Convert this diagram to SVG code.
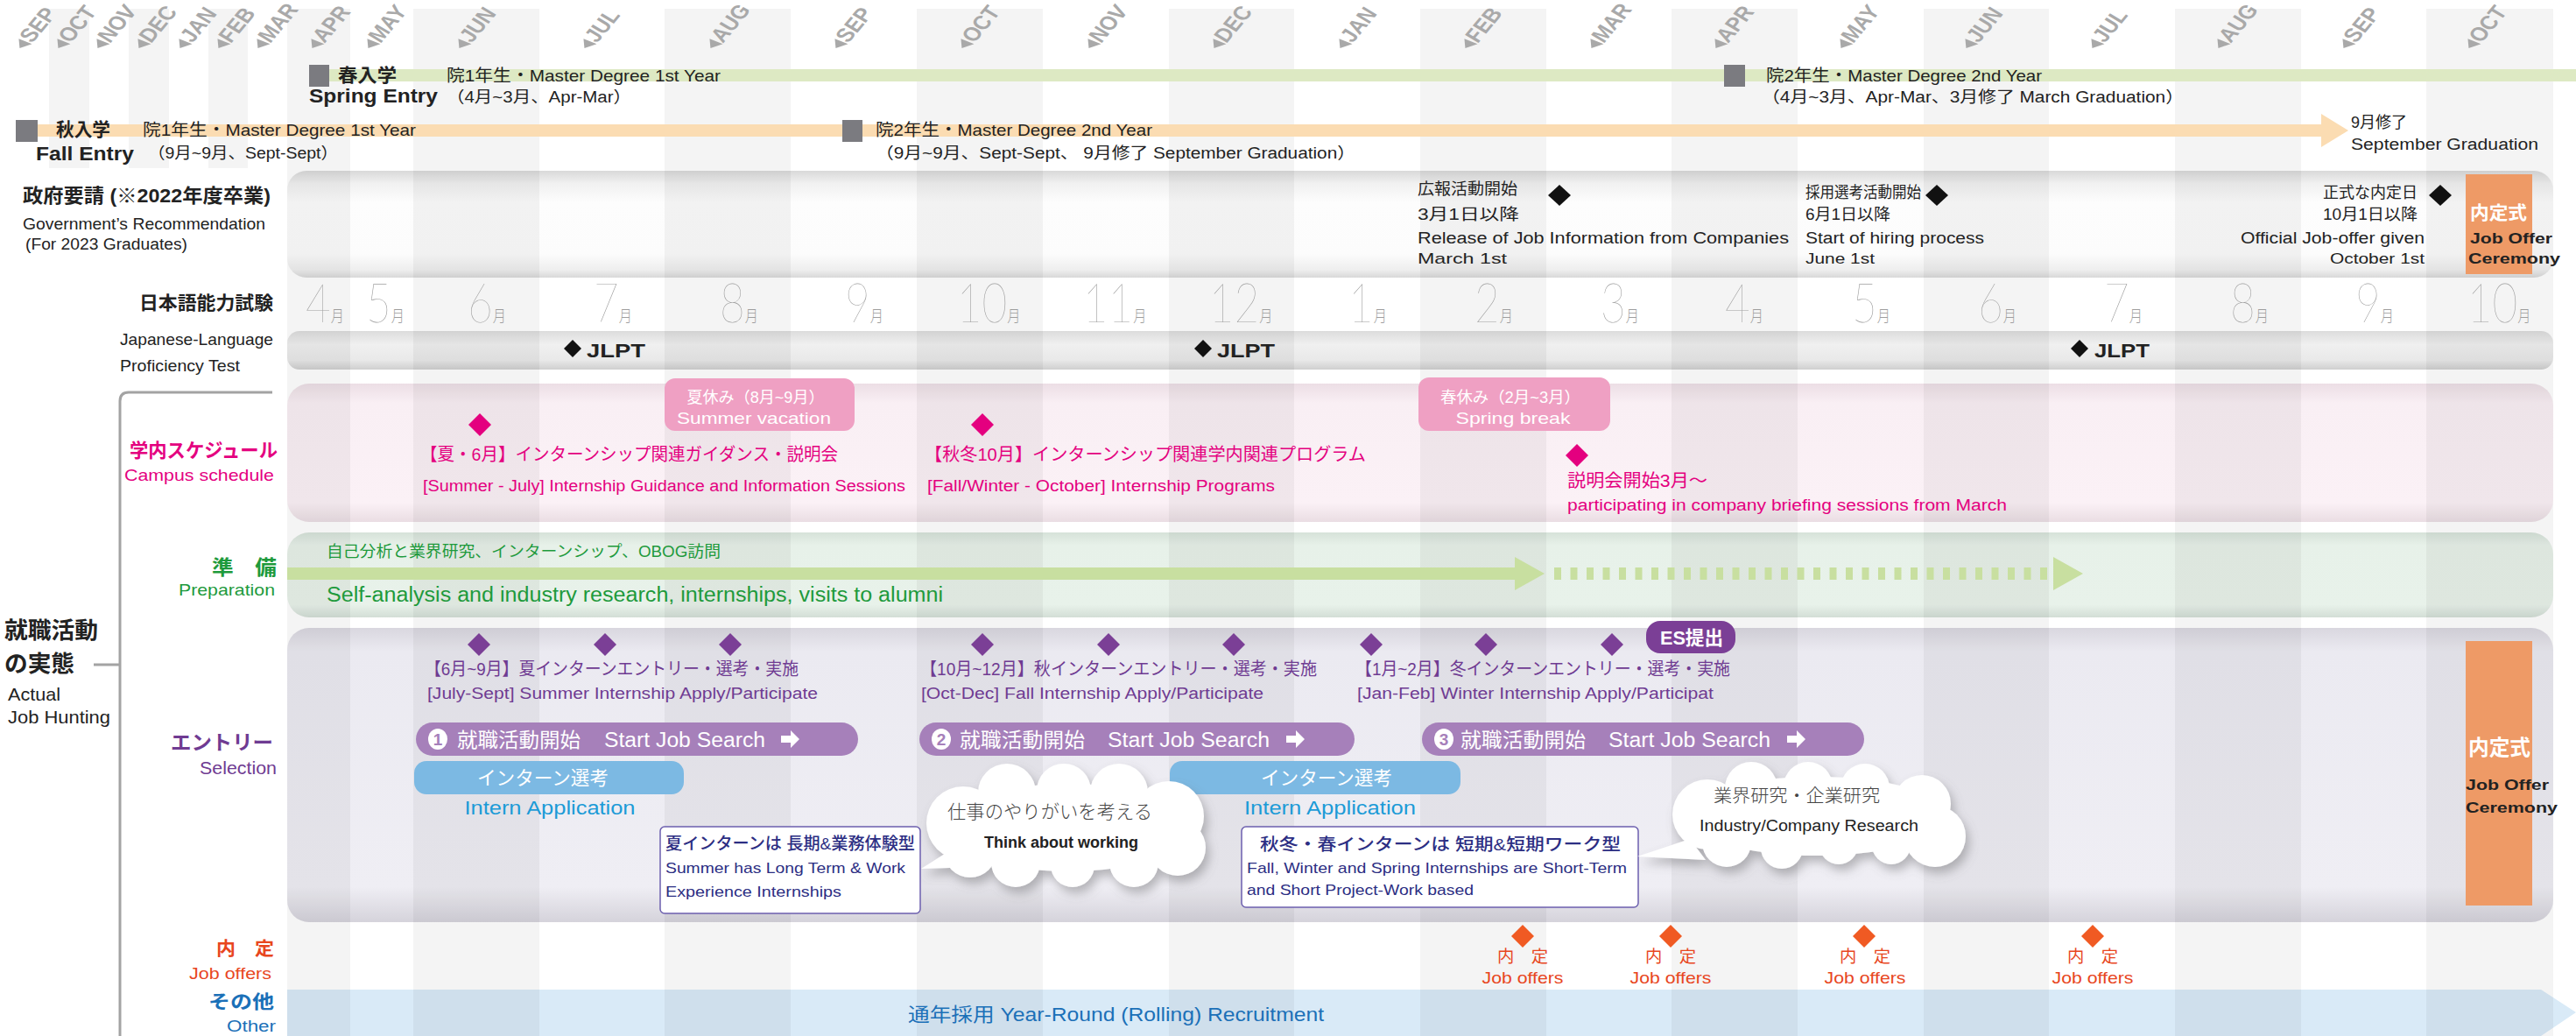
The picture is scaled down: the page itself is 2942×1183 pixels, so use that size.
<svg xmlns="http://www.w3.org/2000/svg" width="2942" height="1183" viewBox="0 0 2942 1183">
<defs>
<style>
text{font-family:"Liberation Sans","Noto Sans CJK JP",sans-serif;fill:#222}
.b{font-weight:bold}
.mon{font-style:italic;font-weight:bold;font-size:20px;fill:#a9a9a9}
.num{font-family:"Lato","Roboto","Noto Sans CJK JP",sans-serif;font-weight:200;fill:#9e9e9e;font-size:62px}
.nm{font-size:19px}
.mag{fill:#e4007f}
.grn{fill:#1e9a3c}
.pur{fill:#6f3b92}
.wht{fill:#fff}
.blu{fill:#1c9bd7}
.org{fill:#e8461e}
.oth{fill:#1b70b8}
.nav{fill:#2c2e83}
.stripe{fill:#000;fill-opacity:0.045}
.dm-k{fill:#111}
.dm-m{fill:#e4007f}
.dm-p{fill:#7b3f96}
.dm-o{fill:#f05a23}
.pill{fill:#a680ba}
.intern{fill:#7cb9e3}
.note{fill:#fff;stroke:#6c5fae;stroke-width:1.5}
.cloud{fill:#fff}
.cer{fill:#ee9a66}
.tri{fill:#a9a9a9}
</style>
<linearGradient id="gGov" x1="0" y1="0" x2="0" y2="1">
<stop offset="0" stop-color="#d9d9d9"/><stop offset="0.12" stop-color="#f1f1f1"/><stop offset="0.3" stop-color="#fdfdfd"/><stop offset="0.78" stop-color="#fcfcfc"/><stop offset="0.93" stop-color="#eeeeee"/><stop offset="1" stop-color="#d8d8d8"/>
</linearGradient>
<linearGradient id="gJl" x1="0" y1="0" x2="0" y2="1">
<stop offset="0" stop-color="#dcdcdc"/><stop offset="0.35" stop-color="#f0f0f0"/><stop offset="0.75" stop-color="#e9e9e9"/><stop offset="1" stop-color="#cfcfcf"/>
</linearGradient>
<linearGradient id="gPk" x1="0" y1="0" x2="0" y2="1">
<stop offset="0" stop-color="#ecdee5"/><stop offset="0.14" stop-color="#f9eff4"/><stop offset="0.86" stop-color="#fbf1f6"/><stop offset="1" stop-color="#eadde3"/>
</linearGradient>
<linearGradient id="gGr" x1="0" y1="0" x2="0" y2="1">
<stop offset="0" stop-color="#d6e2d9"/><stop offset="0.15" stop-color="#e7f1e9"/><stop offset="0.85" stop-color="#e8f2ea"/><stop offset="1" stop-color="#d3ded6"/>
</linearGradient>
<linearGradient id="gLv" x1="0" y1="0" x2="0" y2="1">
<stop offset="0" stop-color="#d9d7df"/><stop offset="0.08" stop-color="#ebeaf1"/><stop offset="0.88" stop-color="#efeef4"/><stop offset="1" stop-color="#d5d3db"/>
</linearGradient>
<filter id="sh" x="-15%" y="-20%" width="140%" height="160%">
<feDropShadow dx="4" dy="7" stdDeviation="6" flood-color="#6a6a70" flood-opacity="0.45"/>
</filter>
</defs>

<rect x="0" y="0" width="2942" height="1183" fill="#fff"/>

<!-- panels -->
<g id="panels">
<rect x="328" y="195" width="2588" height="122" rx="22" fill="url(#gGov)"/>
<rect x="328" y="378" width="2588" height="44" rx="14" fill="url(#gJl)"/>
<rect x="328" y="438" width="2588" height="158" rx="25" fill="url(#gPk)"/>
<rect x="328" y="608" width="2588" height="97" rx="25" fill="url(#gGr)"/>
<rect x="328" y="717" width="2588" height="336" rx="25" fill="url(#gLv)"/>
<polygon points="328,1130 2902,1130 2942,1156 2902,1183 328,1183" fill="#d9eaf7"/>
</g>

<!-- month stripes -->
<g id="stripes">
<rect class="stripe" x="56" y="10" width="46" height="182"/>
<rect class="stripe" x="147" y="10" width="46" height="182"/>
<rect class="stripe" x="238" y="10" width="45" height="182"/>
<rect class="stripe" x="328" y="10" width="72" height="1173"/>
<rect class="stripe" x="472" y="10" width="144" height="1173"/>
<rect class="stripe" x="759" y="10" width="144" height="1173"/>
<rect class="stripe" x="1047" y="10" width="144" height="1173"/>
<rect class="stripe" x="1335" y="10" width="143" height="1173"/>
<rect class="stripe" x="1622" y="10" width="144" height="1173"/>
<rect class="stripe" x="1909" y="10" width="144" height="1173"/>
<rect class="stripe" x="2197" y="10" width="143" height="1173"/>
<rect class="stripe" x="2484" y="10" width="144" height="1173"/>
<rect class="stripe" x="2771" y="10" width="145" height="1173"/>
</g>

<!-- rotated month labels -->
<g id="month-labels">
<g transform="translate(30,58) scale(1.45,1) rotate(-60)"><polygon class="tri" points="0,-6 9,-12 9,0"/><text x="10" y="0" class="mon">SEP</text></g>
<g transform="translate(74,58) scale(1.45,1) rotate(-60)"><polygon class="tri" points="0,-6 9,-12 9,0"/><text x="10" y="0" class="mon">OCT</text></g>
<g transform="translate(119,58) scale(1.45,1) rotate(-60)"><polygon class="tri" points="0,-6 9,-12 9,0"/><text x="10" y="0" class="mon">NOV</text></g>
<g transform="translate(166,58) scale(1.45,1) rotate(-60)"><polygon class="tri" points="0,-6 9,-12 9,0"/><text x="10" y="0" class="mon">DEC</text></g>
<g transform="translate(213,58) scale(1.45,1) rotate(-60)"><polygon class="tri" points="0,-6 9,-12 9,0"/><text x="10" y="0" class="mon">JAN</text></g>
<g transform="translate(257,58) scale(1.45,1) rotate(-60)"><polygon class="tri" points="0,-6 9,-12 9,0"/><text x="10" y="0" class="mon">FEB</text></g>
<g transform="translate(302,58) scale(1.45,1) rotate(-60)"><polygon class="tri" points="0,-6 9,-12 9,0"/><text x="10" y="0" class="mon">MAR</text></g>
<g transform="translate(364,58) scale(1.45,1) rotate(-60)"><polygon class="tri" points="0,-6 9,-12 9,0"/><text x="10" y="0" class="mon">APR</text></g>
<g transform="translate(428,58) scale(1.45,1) rotate(-60)"><polygon class="tri" points="0,-6 9,-12 9,0"/><text x="10" y="0" class="mon">MAY</text></g>
<g transform="translate(532,58) scale(1.45,1) rotate(-60)"><polygon class="tri" points="0,-6 9,-12 9,0"/><text x="10" y="0" class="mon">JUN</text></g>
<g transform="translate(675,58) scale(1.45,1) rotate(-60)"><polygon class="tri" points="0,-6 9,-12 9,0"/><text x="10" y="0" class="mon">JUL</text></g>
<g transform="translate(819,58) scale(1.45,1) rotate(-60)"><polygon class="tri" points="0,-6 9,-12 9,0"/><text x="10" y="0" class="mon">AUG</text></g>
<g transform="translate(962,58) scale(1.45,1) rotate(-60)"><polygon class="tri" points="0,-6 9,-12 9,0"/><text x="10" y="0" class="mon">SEP</text></g>
<g transform="translate(1106,58) scale(1.45,1) rotate(-60)"><polygon class="tri" points="0,-6 9,-12 9,0"/><text x="10" y="0" class="mon">OCT</text></g>
<g transform="translate(1251,58) scale(1.45,1) rotate(-60)"><polygon class="tri" points="0,-6 9,-12 9,0"/><text x="10" y="0" class="mon">NOV</text></g>
<g transform="translate(1394,58) scale(1.45,1) rotate(-60)"><polygon class="tri" points="0,-6 9,-12 9,0"/><text x="10" y="0" class="mon">DEC</text></g>
<g transform="translate(1538,58) scale(1.45,1) rotate(-60)"><polygon class="tri" points="0,-6 9,-12 9,0"/><text x="10" y="0" class="mon">JAN</text></g>
<g transform="translate(1681,58) scale(1.45,1) rotate(-60)"><polygon class="tri" points="0,-6 9,-12 9,0"/><text x="10" y="0" class="mon">FEB</text></g>
<g transform="translate(1825,58) scale(1.45,1) rotate(-60)"><polygon class="tri" points="0,-6 9,-12 9,0"/><text x="10" y="0" class="mon">MAR</text></g>
<g transform="translate(1967,58) scale(1.45,1) rotate(-60)"><polygon class="tri" points="0,-6 9,-12 9,0"/><text x="10" y="0" class="mon">APR</text></g>
<g transform="translate(2110,58) scale(1.45,1) rotate(-60)"><polygon class="tri" points="0,-6 9,-12 9,0"/><text x="10" y="0" class="mon">MAY</text></g>
<g transform="translate(2253,58) scale(1.45,1) rotate(-60)"><polygon class="tri" points="0,-6 9,-12 9,0"/><text x="10" y="0" class="mon">JUN</text></g>
<g transform="translate(2397,58) scale(1.45,1) rotate(-60)"><polygon class="tri" points="0,-6 9,-12 9,0"/><text x="10" y="0" class="mon">JUL</text></g>
<g transform="translate(2541,58) scale(1.45,1) rotate(-60)"><polygon class="tri" points="0,-6 9,-12 9,0"/><text x="10" y="0" class="mon">AUG</text></g>
<g transform="translate(2684,58) scale(1.45,1) rotate(-60)"><polygon class="tri" points="0,-6 9,-12 9,0"/><text x="10" y="0" class="mon">SEP</text></g>
<g transform="translate(2827,58) scale(1.45,1) rotate(-60)"><polygon class="tri" points="0,-6 9,-12 9,0"/><text x="10" y="0" class="mon">OCT</text></g>
</g>

<!-- enrolment bars -->
<g id="spring-entry">
<rect x="376" y="79" width="2566" height="14" fill="#dde9c3"/>
<rect x="353" y="74" width="23" height="25" fill="#7b7b80"/>
<rect x="1969" y="74" width="24" height="25" fill="#7b7b80"/>
<text x="386" y="93" class="b" font-size="21" textLength="67" lengthAdjust="spacingAndGlyphs">春入学</text>
<text x="510" y="93" font-size="19" textLength="313" lengthAdjust="spacingAndGlyphs">院1年生・Master Degree 1st Year</text>
<text x="353" y="117" class="b" font-size="22" textLength="147" lengthAdjust="spacingAndGlyphs">Spring Entry</text>
<text x="510" y="117" font-size="18" textLength="211" lengthAdjust="spacingAndGlyphs">（4月~3月、Apr-Mar）</text>
<text x="2017" y="93" font-size="19" textLength="315" lengthAdjust="spacingAndGlyphs">院2年生・Master Degree 2nd Year</text>
<text x="2012" y="117" font-size="18" textLength="482" lengthAdjust="spacingAndGlyphs">（4月~3月、Apr-Mar、3月修了 March Graduation）</text>
</g>
<g id="fall-entry">
<rect x="43" y="142" width="2608" height="14" fill="#fbdcb2"/>
<polygon points="2651,130 2682,149 2651,168" fill="#fbdcb2"/>
<rect x="18" y="137" width="25" height="25" fill="#7b7b80"/>
<rect x="962" y="137" width="23" height="25" fill="#7b7b80"/>
<text x="64" y="155" class="b" font-size="21" textLength="62" lengthAdjust="spacingAndGlyphs">秋入学</text>
<text x="163" y="155" font-size="19" textLength="312" lengthAdjust="spacingAndGlyphs">院1年生・Master Degree 1st Year</text>
<text x="41" y="183" class="b" font-size="22" textLength="112" lengthAdjust="spacingAndGlyphs">Fall Entry</text>
<text x="169" y="181" font-size="18" textLength="217" lengthAdjust="spacingAndGlyphs">（9月~9月、Sept-Sept）</text>
<text x="1000" y="155" font-size="19" textLength="316" lengthAdjust="spacingAndGlyphs">院2年生・Master Degree 2nd Year</text>
<text x="1000" y="181" font-size="18" textLength="548" lengthAdjust="spacingAndGlyphs">（9月~9月、Sept-Sept、 9月修了 September Graduation）</text>
<text x="2685" y="146" font-size="18" textLength="64" lengthAdjust="spacingAndGlyphs">9月修了</text>
<text x="2685" y="171" font-size="18" textLength="214" lengthAdjust="spacingAndGlyphs">September Graduation</text>
</g>

<!-- government recommendation -->
<g id="gov">
<text x="26" y="231" class="b" font-size="22" textLength="283" lengthAdjust="spacingAndGlyphs">政府要請 (※2022年度卒業)</text>
<text x="26" y="262" font-size="19" textLength="277" lengthAdjust="spacingAndGlyphs">Government’s Recommendation</text>
<text x="29" y="285" font-size="18" textLength="185" lengthAdjust="spacingAndGlyphs">(For 2023 Graduates)</text>

<text x="1619" y="222" font-size="18" textLength="114" lengthAdjust="spacingAndGlyphs">広報活動開始</text>
<polygon class="dm-k" points="1781,211 1794,223 1781,235 1768,223"/>
<text x="1619" y="251" font-size="18" textLength="116" lengthAdjust="spacingAndGlyphs">3月1日以降</text>
<text x="1619" y="278" font-size="18" textLength="424" lengthAdjust="spacingAndGlyphs">Release of Job Information from Companies</text>
<text x="1619" y="301" font-size="17" textLength="102" lengthAdjust="spacingAndGlyphs">March 1st</text>

<text x="2062" y="226" font-size="18" textLength="132" lengthAdjust="spacingAndGlyphs">採用選考活動開始</text>
<polygon class="dm-k" points="2212,211 2225,223 2212,235 2199,223"/>
<text x="2062" y="251" font-size="18" textLength="97" lengthAdjust="spacingAndGlyphs">6月1日以降</text>
<text x="2062" y="278" font-size="18" textLength="204" lengthAdjust="spacingAndGlyphs">Start of hiring process</text>
<text x="2062" y="301" font-size="17" textLength="79" lengthAdjust="spacingAndGlyphs">June 1st</text>

<text x="2761" y="226" font-size="18" text-anchor="end" textLength="108" lengthAdjust="spacingAndGlyphs">正式な内定日</text>
<polygon class="dm-k" points="2787,211 2800,223 2787,235 2774,223"/>
<text x="2761" y="251" font-size="18" text-anchor="end" textLength="108" lengthAdjust="spacingAndGlyphs">10月1日以降</text>
<text x="2769" y="278" font-size="18" text-anchor="end" textLength="210" lengthAdjust="spacingAndGlyphs">Official Job-offer given</text>
<text x="2769" y="301" font-size="17" text-anchor="end" textLength="108" lengthAdjust="spacingAndGlyphs">October 1st</text>

<rect class="cer" x="2816" y="199" width="76" height="114"/>
<text x="2821" y="250" class="b wht" font-size="21" textLength="65" lengthAdjust="spacingAndGlyphs">内定式</text>
<text x="2821" y="278" class="b" font-size="16" textLength="94" lengthAdjust="spacingAndGlyphs">Job Offer</text>
<text x="2819" y="301" class="b" font-size="16" textLength="105" lengthAdjust="spacingAndGlyphs">Ceremony</text>
</g>

<!-- month numbers -->
<g id="month-numbers">
<text class="num" transform="translate(371,368) scale(0.8,1)" text-anchor="middle">4<tspan class="nm">月</tspan></text>
<text class="num" transform="translate(440,368) scale(0.8,1)" text-anchor="middle">5<tspan class="nm">月</tspan></text>
<text class="num" transform="translate(556,368) scale(0.8,1)" text-anchor="middle">6<tspan class="nm">月</tspan></text>
<text class="num" transform="translate(700,368) scale(0.8,1)" text-anchor="middle">7<tspan class="nm">月</tspan></text>
<text class="num" transform="translate(844,368) scale(0.8,1)" text-anchor="middle">8<tspan class="nm">月</tspan></text>
<text class="num" transform="translate(987,368) scale(0.8,1)" text-anchor="middle">9<tspan class="nm">月</tspan></text>
<text class="num" transform="translate(1129,368) scale(0.8,1)" text-anchor="middle">10<tspan class="nm">月</tspan></text>
<text class="num" transform="translate(1273,368) scale(0.8,1)" text-anchor="middle">11<tspan class="nm">月</tspan></text>
<text class="num" transform="translate(1417,368) scale(0.8,1)" text-anchor="middle">12<tspan class="nm">月</tspan></text>
<text class="num" transform="translate(1562,368) scale(0.8,1)" text-anchor="middle">1<tspan class="nm">月</tspan></text>
<text class="num" transform="translate(1706,368) scale(0.8,1)" text-anchor="middle">2<tspan class="nm">月</tspan></text>
<text class="num" transform="translate(1850,368) scale(0.8,1)" text-anchor="middle">3<tspan class="nm">月</tspan></text>
<text class="num" transform="translate(1992,368) scale(0.8,1)" text-anchor="middle">4<tspan class="nm">月</tspan></text>
<text class="num" transform="translate(2137,368) scale(0.8,1)" text-anchor="middle">5<tspan class="nm">月</tspan></text>
<text class="num" transform="translate(2281,368) scale(0.8,1)" text-anchor="middle">6<tspan class="nm">月</tspan></text>
<text class="num" transform="translate(2425,368) scale(0.8,1)" text-anchor="middle">7<tspan class="nm">月</tspan></text>
<text class="num" transform="translate(2569,368) scale(0.8,1)" text-anchor="middle">8<tspan class="nm">月</tspan></text>
<text class="num" transform="translate(2712,368) scale(0.8,1)" text-anchor="middle">9<tspan class="nm">月</tspan></text>
<text class="num" transform="translate(2854,368) scale(0.8,1)" text-anchor="middle">10<tspan class="nm">月</tspan></text>
</g>

<!-- JLPT -->
<g id="jlpt">
<text x="312" y="353" class="b" font-size="21" text-anchor="end" textLength="153" lengthAdjust="spacingAndGlyphs">日本語能力試験</text>
<text x="137" y="394" font-size="19" textLength="175" lengthAdjust="spacingAndGlyphs">Japanese-Language</text>
<text x="137" y="424" font-size="19" textLength="137" lengthAdjust="spacingAndGlyphs">Proficiency Test</text>
<polygon class="dm-k" points="654,388 664,398 654,408 644,398"/>
<text x="670" y="408" class="b" font-size="22" textLength="67" lengthAdjust="spacingAndGlyphs">JLPT</text>
<polygon class="dm-k" points="1374,388 1384,398 1374,408 1364,398"/>
<text x="1390" y="408" class="b" font-size="22" textLength="66" lengthAdjust="spacingAndGlyphs">JLPT</text>
<polygon class="dm-k" points="2375,388 2385,398 2375,408 2365,398"/>
<text x="2392" y="408" class="b" font-size="22" textLength="63" lengthAdjust="spacingAndGlyphs">JLPT</text>
</g>

<!-- bracket for actual job hunting -->
<g id="bracket" fill="none" stroke="#a3a3a3" stroke-width="3">
<path d="M311,448 H147 Q137,448 137,458 V1183"/>
<path d="M107,759 H137"/>
</g>

<!-- campus schedule -->
<g id="campus">
<text x="317" y="522" class="b mag" font-size="22" text-anchor="end" textLength="169" lengthAdjust="spacingAndGlyphs">学内スケジュール</text>
<text x="313" y="549" class="mag" font-size="19" text-anchor="end" textLength="171" lengthAdjust="spacingAndGlyphs">Campus schedule</text>
<polygon class="dm-m" points="548,472 561,485 548,498 535,485"/>
<text x="480" y="526" class="mag" font-size="20" textLength="477" lengthAdjust="spacingAndGlyphs">【夏・6月】インターンシップ関連ガイダンス・説明会</text>
<text x="483" y="561" class="mag" font-size="18" textLength="551" lengthAdjust="spacingAndGlyphs">[Summer - July] Internship Guidance and Information Sessions</text>
<rect x="759" y="432" width="217" height="60" rx="12" fill="#efa0c3"/>
<text x="863" y="460" class="wht" font-size="18" text-anchor="middle" textLength="157" lengthAdjust="spacingAndGlyphs">夏休み（8月~9月）</text>
<text x="861" y="484" class="wht" font-size="19" text-anchor="middle" textLength="176" lengthAdjust="spacingAndGlyphs">Summer vacation</text>
<polygon class="dm-m" points="1122,472 1135,485 1122,498 1109,485"/>
<text x="1056" y="526" class="mag" font-size="20" textLength="504" lengthAdjust="spacingAndGlyphs">【秋冬10月】インターンシップ関連学内関連プログラム</text>
<text x="1059" y="561" class="mag" font-size="18" textLength="397" lengthAdjust="spacingAndGlyphs">[Fall/Winter - October] Internship Programs</text>
<rect x="1620" y="431" width="219" height="61" rx="12" fill="#efa0c3"/>
<text x="1725" y="460" class="wht" font-size="18" text-anchor="middle" textLength="160" lengthAdjust="spacingAndGlyphs">春休み（2月~3月）</text>
<text x="1728" y="484" class="wht" font-size="19" text-anchor="middle" textLength="131" lengthAdjust="spacingAndGlyphs">Spring break</text>
<polygon class="dm-m" points="1801,507 1814,520 1801,533 1788,520"/>
<text x="1790" y="556" class="mag" font-size="20" textLength="160" lengthAdjust="spacingAndGlyphs">説明会開始3月～</text>
<text x="1790" y="583" class="mag" font-size="18" textLength="502" lengthAdjust="spacingAndGlyphs">participating in company briefing sessions from March</text>
</g>

<!-- preparation -->
<g id="preparation">
<text x="316" y="656" class="b grn" font-size="23" text-anchor="end" textLength="74" lengthAdjust="spacingAndGlyphs">準　備</text>
<text x="314" y="680" class="grn" font-size="19" text-anchor="end" textLength="110" lengthAdjust="spacingAndGlyphs">Preparation</text>
<text x="373" y="636" class="grn" font-size="18" textLength="450" lengthAdjust="spacingAndGlyphs">自己分析と業界研究、インターンシップ、OBOG訪問</text>
<rect x="328" y="648" width="1402" height="14" fill="#c8dfa0"/>
<polygon points="1730,636 1764,655 1730,674" fill="#c8dfa0"/>
<line x1="1775" y1="655" x2="2345" y2="655" stroke="#c8dfa0" stroke-width="14" stroke-dasharray="8 10.5"/>
<polygon points="2345,636 2379,655 2345,674" fill="#c8dfa0"/>
<text x="373" y="687" class="grn" font-size="23" textLength="704" lengthAdjust="spacingAndGlyphs">Self-analysis and industry research, internships, visits to alumni</text>
</g>

<!-- actual job hunting label -->
<g id="job-hunting-label">
<text x="5" y="729" class="b" font-size="26" textLength="107" lengthAdjust="spacingAndGlyphs">就職活動</text>
<text x="5" y="767" class="b" font-size="26" textLength="80" lengthAdjust="spacingAndGlyphs">の実態</text>
<text x="9" y="800" font-size="21" textLength="60" lengthAdjust="spacingAndGlyphs">Actual</text>
<text x="9" y="826" font-size="21" textLength="117" lengthAdjust="spacingAndGlyphs">Job Hunting</text>
</g>

<g id="entry">
<text x="312" y="856" class="b pur" font-size="23" text-anchor="end" textLength="117" lengthAdjust="spacingAndGlyphs">エントリー</text>
<text x="316" y="884" class="pur" font-size="20" text-anchor="end" textLength="88" lengthAdjust="spacingAndGlyphs">Selection</text>

<polygon class="dm-p" points="547,723 560,736 547,749 534,736"/>
<polygon class="dm-p" points="691,723 704,736 691,749 678,736"/>
<polygon class="dm-p" points="834,723 847,736 834,749 821,736"/>
<polygon class="dm-p" points="1122,723 1135,736 1122,749 1109,736"/>
<polygon class="dm-p" points="1266,723 1279,736 1266,749 1253,736"/>
<polygon class="dm-p" points="1409,723 1422,736 1409,749 1396,736"/>
<polygon class="dm-p" points="1566,723 1579,736 1566,749 1553,736"/>
<polygon class="dm-p" points="1697,723 1710,736 1697,749 1684,736"/>
<polygon class="dm-p" points="1841,723 1854,736 1841,749 1828,736"/>

<rect x="1880" y="709" width="102" height="37" rx="16" fill="#7b3f96"/>
<text x="1932" y="736" class="b wht" font-size="22" text-anchor="middle" textLength="72" lengthAdjust="spacingAndGlyphs">ES提出</text>

<text x="485" y="771" class="pur" font-size="20" textLength="427" lengthAdjust="spacingAndGlyphs">【6月~9月】夏インターンエントリー・選考・実施</text>
<text x="488" y="798" class="pur" font-size="18" textLength="446" lengthAdjust="spacingAndGlyphs">[July-Sept] Summer Internship Apply/Participate</text>
<text x="1051" y="771" class="pur" font-size="20" textLength="453" lengthAdjust="spacingAndGlyphs">【10月~12月】秋インターンエントリー・選考・実施</text>
<text x="1052" y="798" class="pur" font-size="18" textLength="391" lengthAdjust="spacingAndGlyphs">[Oct-Dec] Fall Internship Apply/Participate</text>
<text x="1548" y="771" class="pur" font-size="20" textLength="428" lengthAdjust="spacingAndGlyphs">【1月~2月】冬インターンエントリー・選考・実施</text>
<text x="1550" y="798" class="pur" font-size="18" textLength="407" lengthAdjust="spacingAndGlyphs">[Jan-Feb] Winter Internship Apply/Participat</text>
</g>

<g id="start-job-search-1">
<rect class="pill" x="475" y="825" width="505" height="38" rx="19"/>
<ellipse cx="500" cy="844" rx="11" ry="12" fill="#fff"/>
<text x="500" y="851" class="b" font-size="19" text-anchor="middle" style="fill:#a680ba">1</text>
<text x="522" y="853" class="wht" font-size="23" textLength="141" lengthAdjust="spacingAndGlyphs">就職活動開始</text>
<text x="690" y="853" class="wht" font-size="23" textLength="184" lengthAdjust="spacingAndGlyphs">Start Job Search</text>
<polygon points="892,840 903,840 903,834 913,844 903,854 903,848 892,848" fill="#fff"/>
</g>
<g id="start-job-search-2">
<rect class="pill" x="1050" y="825" width="497" height="38" rx="19"/>
<ellipse cx="1075" cy="844" rx="11" ry="12" fill="#fff"/>
<text x="1075" y="851" class="b" font-size="19" text-anchor="middle" style="fill:#a680ba">2</text>
<text x="1096" y="853" class="wht" font-size="23" textLength="143" lengthAdjust="spacingAndGlyphs">就職活動開始</text>
<text x="1265" y="853" class="wht" font-size="23" textLength="185" lengthAdjust="spacingAndGlyphs">Start Job Search</text>
<polygon points="1469,840 1480,840 1480,834 1490,844 1480,854 1480,848 1469,848" fill="#fff"/>
</g>
<g id="start-job-search-3">
<rect class="pill" x="1624" y="825" width="505" height="38" rx="19"/>
<ellipse cx="1649" cy="844" rx="11" ry="12" fill="#fff"/>
<text x="1649" y="851" class="b" font-size="19" text-anchor="middle" style="fill:#a680ba">3</text>
<text x="1668" y="853" class="wht" font-size="23" textLength="143" lengthAdjust="spacingAndGlyphs">就職活動開始</text>
<text x="1837" y="853" class="wht" font-size="23" textLength="185" lengthAdjust="spacingAndGlyphs">Start Job Search</text>
<polygon points="2041,840 2052,840 2052,834 2062,844 2052,854 2052,848 2041,848" fill="#fff"/>
</g>

<g id="intern-application-1">
<rect class="intern" x="473" y="869" width="308" height="38" rx="14"/>
<text x="620" y="896" class="wht" font-size="22" text-anchor="middle" textLength="150" lengthAdjust="spacingAndGlyphs">インターン選考</text>
<text x="628" y="930" class="blu" font-size="22" text-anchor="middle" textLength="195" lengthAdjust="spacingAndGlyphs">Intern Application</text>
</g>
<g id="intern-application-2">
<rect class="intern" x="1336" y="869" width="332" height="38" rx="14"/>
<text x="1515" y="896" class="wht" font-size="22" text-anchor="middle" textLength="150" lengthAdjust="spacingAndGlyphs">インターン選考</text>
<text x="1519" y="930" class="blu" font-size="22" text-anchor="middle" textLength="196" lengthAdjust="spacingAndGlyphs">Intern Application</text>
</g>

<g id="note-summer">
<rect class="note" x="754" y="944" width="297" height="99" rx="5"/>
<text x="760" y="970" class="nav" font-size="19" font-weight="500" textLength="285" lengthAdjust="spacingAndGlyphs">夏インターンは 長期&amp;業務体験型</text>
<text x="760" y="997" class="nav" font-size="17" textLength="274" lengthAdjust="spacingAndGlyphs">Summer has Long Term &amp; Work</text>
<text x="760" y="1024" class="nav" font-size="17" textLength="201" lengthAdjust="spacingAndGlyphs">Experience Internships</text>
</g>
<g id="note-fall">
<rect class="note" x="1418" y="944" width="453" height="92" rx="5"/>
<text x="1439" y="971" class="nav" font-size="19" font-weight="500" textLength="412" lengthAdjust="spacingAndGlyphs">秋冬・春インターンは 短期&amp;短期ワーク型</text>
<text x="1424" y="997" class="nav" font-size="17" textLength="434" lengthAdjust="spacingAndGlyphs">Fall, Winter and Spring Internships are Short-Term</text>
<text x="1424" y="1022" class="nav" font-size="17" textLength="259" lengthAdjust="spacingAndGlyphs">and Short Project-Work based</text>
</g>

<g id="cloud-think">
<g class="cloud" filter="url(#sh)">
<polygon points="1090,968 1052,992 1118,990"/>
<ellipse cx="1220" cy="945" rx="140" ry="50"/>
<circle cx="1100" cy="940" r="42"/>
<circle cx="1150" cy="905" r="33"/>
<circle cx="1215" cy="903" r="31"/>
<circle cx="1278" cy="905" r="33"/>
<circle cx="1335" cy="932" r="40"/>
<circle cx="1345" cy="968" r="32"/>
<circle cx="1295" cy="985" r="28"/>
<circle cx="1225" cy="988" r="25"/>
<circle cx="1160" cy="985" r="28"/>
<circle cx="1108" cy="972" r="30"/>
</g>
<text x="1199" y="934" font-size="21" font-weight="300" text-anchor="middle" textLength="234" lengthAdjust="spacingAndGlyphs" style="fill:#444">仕事のやりがいを考える</text>
<text x="1212" y="968" class="b" font-size="18" text-anchor="middle" textLength="176" lengthAdjust="spacingAndGlyphs">Think about working</text>
</g>

<g id="cloud-research">
<g class="cloud" filter="url(#sh)">
<polygon points="1930,958 1870,978 1948,982"/>
<ellipse cx="2075" cy="932" rx="150" ry="45"/>
<circle cx="1950" cy="930" r="40"/>
<circle cx="2000" cy="900" r="30"/>
<circle cx="2065" cy="898" r="28"/>
<circle cx="2130" cy="900" r="28"/>
<circle cx="2195" cy="918" r="33"/>
<circle cx="2210" cy="955" r="35"/>
<circle cx="2160" cy="965" r="22"/>
<circle cx="2100" cy="965" r="22"/>
<circle cx="2035" cy="968" r="24"/>
<circle cx="1972" cy="962" r="28"/>
</g>
<text x="2052" y="916" font-size="20" font-weight="300" text-anchor="middle" textLength="190" lengthAdjust="spacingAndGlyphs" style="fill:#444">業界研究・企業研究</text>
<text x="2066" y="949" font-size="18" text-anchor="middle" textLength="250" lengthAdjust="spacingAndGlyphs">Industry/Company Research</text>
</g>

<g id="ceremony">
<rect class="cer" x="2816" y="732" width="76" height="302"/>
<text x="2819" y="862" class="b wht" font-size="24" textLength="71" lengthAdjust="spacingAndGlyphs">内定式</text>
<text x="2816" y="902" class="b" font-size="17" textLength="95" lengthAdjust="spacingAndGlyphs">Job Offer</text>
<text x="2816" y="928" class="b" font-size="17" textLength="105" lengthAdjust="spacingAndGlyphs">Ceremony</text>
</g>

<!-- job offers -->
<g id="job-offers">
<text x="313" y="1090" class="b org" font-size="21" text-anchor="end" textLength="66" lengthAdjust="spacingAndGlyphs">内　定</text>
<text x="310" y="1118" class="org" font-size="18" text-anchor="end" textLength="94" lengthAdjust="spacingAndGlyphs">Job offers</text>
<polygon class="dm-o" points="1739,1056 1752,1069 1739,1082 1726,1069"/>
<text x="1739" y="1099" class="org" font-size="19" text-anchor="middle" textLength="58" lengthAdjust="spacingAndGlyphs">内　定</text>
<text x="1739" y="1123" class="org" font-size="19" text-anchor="middle" textLength="93" lengthAdjust="spacingAndGlyphs">Job offers</text>
<polygon class="dm-o" points="1908,1056 1921,1069 1908,1082 1895,1069"/>
<text x="1908" y="1099" class="org" font-size="19" text-anchor="middle" textLength="58" lengthAdjust="spacingAndGlyphs">内　定</text>
<text x="1908" y="1123" class="org" font-size="19" text-anchor="middle" textLength="93" lengthAdjust="spacingAndGlyphs">Job offers</text>
<polygon class="dm-o" points="2129,1056 2142,1069 2129,1082 2116,1069"/>
<text x="2130" y="1099" class="org" font-size="19" text-anchor="middle" textLength="58" lengthAdjust="spacingAndGlyphs">内　定</text>
<text x="2130" y="1123" class="org" font-size="19" text-anchor="middle" textLength="93" lengthAdjust="spacingAndGlyphs">Job offers</text>
<polygon class="dm-o" points="2390,1056 2403,1069 2390,1082 2377,1069"/>
<text x="2390" y="1099" class="org" font-size="19" text-anchor="middle" textLength="58" lengthAdjust="spacingAndGlyphs">内　定</text>
<text x="2390" y="1123" class="org" font-size="19" text-anchor="middle" textLength="93" lengthAdjust="spacingAndGlyphs">Job offers</text>
</g>

<!-- other -->
<g id="other">
<text x="313" y="1151" class="b oth" font-size="21" text-anchor="end" textLength="75" lengthAdjust="spacingAndGlyphs">その他</text>
<text x="315" y="1178" class="oth" font-size="18" text-anchor="end" textLength="56" lengthAdjust="spacingAndGlyphs">Other</text>
<text x="1037" y="1166" class="oth" font-size="22" textLength="475" lengthAdjust="spacingAndGlyphs">通年採用 Year-Round (Rolling) Recruitment</text>
</g>
</svg>
